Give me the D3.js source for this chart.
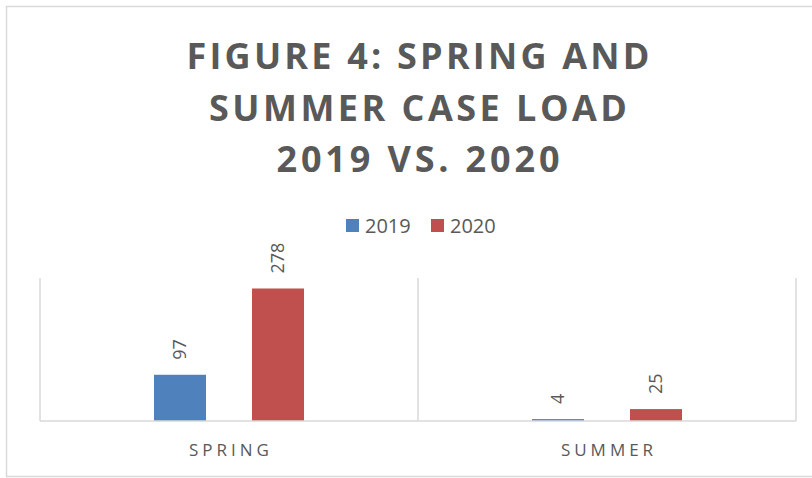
<!DOCTYPE html>
<html>
<head>
<meta charset="utf-8">
<script src="https://cdn.jsdelivr.net/npm/d3@7"></script>
<style>
  html, body { margin: 0; padding: 0; background: #ffffff; }
  svg { display: block; }
</style>
</head>
<body>
<svg id="chart" width="812" height="478"></svg>
<script>
// ---- Data ----
const titleLines = ["FIGURE 4: SPRING AND", "SUMMER CASE LOAD", "2019 VS. 2020"];
const categories = ["SPRING", "SUMMER"];
const seriesNames = ["2019", "2020"];
const values2019 = [97, 4];
const values2020 = [278, 25];
const seriesColors = ["#4f81bd", "#c0504d"];
const yMax = 300;

// ---- Layout ----
const plot = { left: 40, right: 796, top: 278, bottom: 421 };
const textColor = "#595959";
const lineColor = "#d9d9d9";

const svg = d3.select("#chart");

// outer chart border (extends beyond right edge, as in reference)
svg.append("rect")
  .attr("x", 6.5).attr("y", 6.5)
  .attr("width", 900).attr("height", 470)
  .attr("fill", "#ffffff")
  .attr("stroke", lineColor).attr("stroke-width", 1.5);

// title
const titleWidths = [463, 418, 283];
const titleBase = [68.5, 120.5, 172];
svg.append("g").selectAll("text")
  .data(titleLines)
  .join("text")
  .attr("x", 418)
  .attr("y", (d, i) => titleBase[i])
  .attr("text-anchor", "middle")
  .attr("textLength", (d, i) => titleWidths[i])
  .attr("lengthAdjust", "spacing")
  .style("font-family", "'Open Sans', sans-serif")
  .style("font-weight", "700")
  .style("font-size", "36px")
  .style("fill", textColor)
  .text(d => d);

// legend
const legendX = [346, 431];
const legend = svg.append("g").selectAll("g")
  .data(seriesNames)
  .join("g")
  .attr("transform", (d, i) => `translate(${legendX[i]},219)`);
legend.append("rect")
  .attr("width", 13).attr("height", 13)
  .attr("fill", (d, i) => seriesColors[i]);
legend.append("text")
  .attr("x", 19).attr("y", 14)
  .style("font-family", "'Open Sans', sans-serif")
  .style("font-size", "20px")
  .style("fill", textColor)
  .text(d => d);

// scales
const x0 = d3.scaleBand().domain(categories).range([plot.left, plot.right]).padding(0);
const x1 = d3.scaleBand().domain(seriesNames).range([0, x0.bandwidth()])
  .paddingInner(0.4694).paddingOuter(1.163);
const y = d3.scaleLinear().domain([0, yMax]).range([plot.bottom, plot.top]);

// vertical category separators
const sepX = categories.map(c => x0(c)).concat([x0(categories[categories.length - 1]) + x0.bandwidth()]);
svg.append("g").selectAll("line")
  .data(sepX)
  .join("line")
  .attr("x1", d => d).attr("x2", d => d)
  .attr("y1", plot.top).attr("y2", plot.bottom)
  .attr("stroke", lineColor).attr("stroke-width", 1.5);

// bars
const rows = categories.map((c, i) => ({
  cat: c,
  vals: [{ s: seriesNames[0], v: values2019[i], k: 0 }, { s: seriesNames[1], v: values2020[i], k: 1 }]
}));

const groups = svg.append("g").selectAll("g")
  .data(rows)
  .join("g")
  .attr("transform", d => `translate(${x0(d.cat)},0)`);

groups.selectAll("rect")
  .data(d => d.vals)
  .join("rect")
  .attr("x", d => x1(d.s))
  .attr("y", d => y(d.v))
  .attr("width", x1.bandwidth())
  .attr("height", d => y(0) - y(d.v))
  .attr("fill", d => seriesColors[d.k]);

// value labels (rotated)
groups.selectAll("text")
  .data(d => d.vals)
  .join("text")
  .attr("transform", d => `translate(${x1(d.s) + x1.bandwidth() / 2},${y(d.v) - 15}) rotate(-90)`)
  .attr("dy", "0.35em")
  .attr("text-anchor", "start")
  .style("font-family", "'Open Sans', sans-serif")
  .style("font-size", "18px")
  .style("fill", textColor)
  .text(d => d.v);

// baseline axis
svg.append("line")
  .attr("x1", plot.left).attr("x2", plot.right)
  .attr("y1", plot.bottom).attr("y2", plot.bottom)
  .attr("stroke", lineColor).attr("stroke-width", 1.5);

// category labels
svg.append("g").selectAll("text")
  .data(categories)
  .join("text")
  .attr("x", d => x0(d) + x0.bandwidth() / 2 + 2)
  .attr("y", 455.5)
  .attr("text-anchor", "middle")
  .style("font-family", "'Open Sans', sans-serif")
  .style("font-size", "17px")
  .style("letter-spacing", "4px")
  .style("fill", textColor)
  .text(d => d);
</script>
</body>
</html>
